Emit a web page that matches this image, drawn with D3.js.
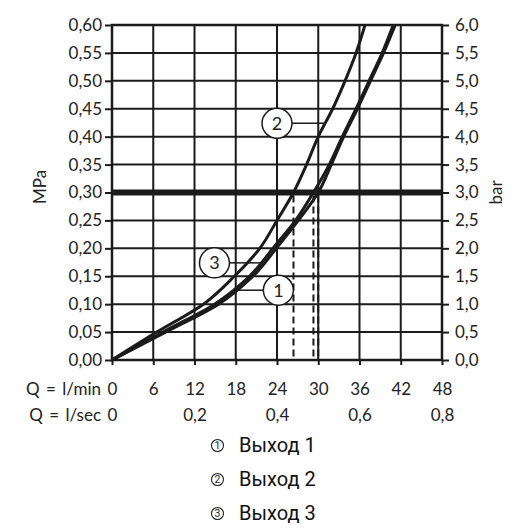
<!DOCTYPE html>
<html>
<head>
<meta charset="utf-8">
<script src="https://cdn.jsdelivr.net/npm/d3@7/dist/d3.min.js"></script>
<style>
body { margin: 0; background: #fff; }
</style>
</head>
<body>
<div id="chart_div"></div>
<script>
// pressure levels (MPa) and flow at those levels (l/min)
var pressure_mpa = [0, 0.05, 0.10, 0.15, 0.20, 0.25, 0.30, 0.35, 0.40, 0.45, 0.50, 0.55, 0.60];
var flow_out1 = [0, 7.8, 15.5, 20.5, 23.9, 27.1, 30.0, 31.9, 33.7, 35.7, 37.6, 39.5, 41.2];
var flow_out2 = [0, 6.5, 13.3, 17.8, 21.5, 24.0, 26.4, 28.3, 30.0, 32.1, 33.9, 35.5, 36.8];
var flow_out3 = [0, 7.4, 14.9, 20.0, 23.4, 26.7, 29.3, 31.6, 33.5, 35.5, 37.4, 39.3, 40.9];

var series_names = ["1", "2", "3"];
var legend_labels = ["Выход 1", "Выход 2", "Выход 3"];

var lmin_ticks = [0, 6, 12, 18, 24, 30, 36, 42, 48];
var lsec_ticks = [0, 0.2, 0.4, 0.6, 0.8];
var mpa_ticks = [0, 0.05, 0.10, 0.15, 0.20, 0.25, 0.30, 0.35, 0.40, 0.45, 0.50, 0.55, 0.60];
var bar_ticks = [0, 0.5, 1.0, 1.5, 2.0, 2.5, 3.0, 3.5, 4.0, 4.5, 5.0, 5.5, 6.0];

var reference_pressure = 0.30;

// curve callouts: which curve, where the circle sits (l/min, MPa)
var callout_series = [1, 2, 0];
var callout_flow = [24.0, 14.9, 24.2];
var callout_pressure = [0.424, 0.174, 0.125];

var width = 530, height = 530;
var plot_left = 112, plot_right = 442, plot_top = 25, plot_bottom = 360;
var ink = "#1b1b1b";
var tick_font = "Lato, 'DejaVu Sans', sans-serif";
var tick_size = "17px";
var legend_font = "Roboto, 'Liberation Sans', sans-serif";

var flows = [flow_out1, flow_out2, flow_out3];

var x = d3.scaleLinear().domain([0, 48]).range([plot_left, plot_right]);
var x_sec = d3.scaleLinear().domain([0, 0.8]).range([plot_left, plot_right]);
var y = d3.scaleLinear().domain([0, 0.6]).range([plot_bottom, plot_top]);
var y_bar = d3.scaleLinear().domain([0, 6]).range([plot_bottom, plot_top]);

function comma(fmt) {
    return function(d) {
        if (d === 0 && fmt === "0") return "0";
        return d3.format(fmt)(d).replace(".", ",");
    };
}

var svg = d3.select("#chart_div")
    .append("svg")
    .attr("width", width)
    .attr("height", height);

// grid
var grid = svg.append("g");
grid.selectAll("line.v")
    .data(lmin_ticks)
    .enter()
    .append("line")
    .attr("x1", function(d) { return x(d); })
    .attr("x2", function(d) { return x(d); })
    .attr("y1", plot_top)
    .attr("y2", plot_bottom)
    .attr("stroke", ink)
    .attr("stroke-width", 2);
grid.selectAll("line.h")
    .data(mpa_ticks)
    .enter()
    .append("line")
    .attr("x1", plot_left)
    .attr("x2", plot_right)
    .attr("y1", function(d) { return y(d); })
    .attr("y2", function(d) { return y(d); })
    .attr("stroke", ink)
    .attr("stroke-width", 2);
grid.append("rect")
    .attr("x", plot_left)
    .attr("y", plot_top)
    .attr("width", plot_right - plot_left)
    .attr("height", plot_bottom - plot_top)
    .attr("fill", "none")
    .attr("stroke", ink)
    .attr("stroke-width", 2.5);

// axes
function style_axis(g) {
    g.select(".domain").remove();
    g.selectAll(".tick line").attr("stroke", ink).attr("stroke-width", 2);
    g.selectAll(".tick text")
        .attr("fill", "#222")
        .style("font-family", tick_font)
        .style("font-size", tick_size);
}

svg.append("g")
    .attr("transform", "translate(" + plot_left + ",0)")
    .call(d3.axisLeft(y).tickValues(mpa_ticks).tickSize(7).tickPadding(3).tickFormat(comma(".2f")))
    .call(style_axis);

svg.append("g")
    .attr("transform", "translate(" + plot_right + ",0)")
    .call(d3.axisRight(y_bar).tickValues(bar_ticks).tickSize(7).tickPadding(6).tickFormat(comma(".1f")))
    .call(style_axis);

svg.append("g")
    .attr("transform", "translate(0," + plot_bottom + ")")
    .call(d3.axisBottom(x).tickValues(lmin_ticks).tickSize(5).tickPadding(18).tickFormat(d3.format("d")))
    .call(style_axis);

svg.append("g")
    .attr("transform", "translate(0," + (plot_bottom + 26) + ")")
    .call(d3.axisBottom(x_sec).tickValues(lsec_ticks).tickSize(0).tickPadding(23).tickFormat(comma("0")))
    .call(style_axis);

// row captions
svg.append("text")
    .attr("x", 101).attr("y", 395)
    .attr("text-anchor", "end")
    .style("font-family", tick_font).style("font-size", tick_size)
    .style("word-spacing", "2px")
    .attr("fill", "#222")
    .text("Q = l/min");
svg.append("text")
    .attr("x", 101).attr("y", 421)
    .attr("text-anchor", "end")
    .style("font-family", tick_font).style("font-size", tick_size)
    .style("word-spacing", "2px")
    .attr("fill", "#222")
    .text("Q = l/sec");

svg.append("text")
    .attr("transform", "translate(46," + y(0.31) + ") rotate(-90)")
    .attr("text-anchor", "middle")
    .style("font-family", tick_font).style("font-size", tick_size)
    .attr("fill", "#222")
    .text("MPa");
svg.append("text")
    .attr("transform", "translate(502," + y(0.30) + ") rotate(-90)")
    .attr("text-anchor", "middle")
    .style("font-family", tick_font).style("font-size", tick_size)
    .attr("fill", "#222")
    .text("bar");

// reference pressure line
svg.append("line")
    .attr("x1", plot_left).attr("x2", plot_right)
    .attr("y1", y(reference_pressure)).attr("y2", y(reference_pressure))
    .attr("stroke", ink)
    .attr("stroke-width", 6);

// dashed drops where each curve crosses the reference pressure
var ref_index = pressure_mpa.indexOf(reference_pressure);
svg.selectAll("line.drop")
    .data(flows)
    .enter()
    .append("line")
    .attr("x1", function(d) { return x(d[ref_index]); })
    .attr("x2", function(d) { return x(d[ref_index]); })
    .attr("y1", y(reference_pressure) + 3)
    .attr("y2", plot_bottom)
    .attr("stroke", ink)
    .attr("stroke-width", 2)
    .attr("stroke-dasharray", "7,4");

// curves
var line = d3.line()
    .x(function(d) { return x(d[0]); })
    .y(function(d) { return y(d[1]); })
    .curve(d3.curveMonotoneY);

svg.selectAll("path.curve")
    .data(flows)
    .enter()
    .append("path")
    .attr("d", function(d) {
        return line(d.map(function(q, i) { return [q, pressure_mpa[i]]; }));
    })
    .attr("fill", "none")
    .attr("stroke", ink)
    .attr("stroke-width", 3);

// callouts
var r_callout = 15;
callout_series.forEach(function(s, i) {
    var cx = x(callout_flow[i]);
    var cy = y(callout_pressure[i]);
    var on_curve = d3.scaleLinear().domain(pressure_mpa).range(flows[s]);
    var tx = x(on_curve(callout_pressure[i]));
    var start = tx > cx ? cx + r_callout : cx - r_callout;
    svg.append("line")
        .attr("x1", start).attr("x2", tx)
        .attr("y1", cy).attr("y2", cy)
        .attr("stroke", ink)
        .attr("stroke-width", 1.5);
    svg.append("circle")
        .attr("cx", cx).attr("cy", cy).attr("r", r_callout)
        .attr("fill", "#fff")
        .attr("stroke", ink)
        .attr("stroke-width", 1.5);
    svg.append("text")
        .attr("x", cx).attr("y", cy + 6.5)
        .attr("text-anchor", "middle")
        .style("font-family", tick_font).style("font-size", "18px")
        .attr("fill", "#222")
        .text(series_names[s]);
});

// legend
var legend = svg.append("g");
legend_labels.forEach(function(label, i) {
    var base = 452 + i * 34;
    legend.append("circle")
        .attr("cx", 217.5).attr("cy", base - 6.5).attr("r", 6)
        .attr("fill", "none")
        .attr("stroke", "#222")
        .attr("stroke-width", 1.1);
    legend.append("text")
        .attr("x", 217.5).attr("y", base - 2.8)
        .attr("text-anchor", "middle")
        .style("font-family", legend_font)
        .style("font-size", "10.5px")
        .attr("fill", "#222")
        .text(series_names[i]);
    legend.append("text")
        .attr("x", 239).attr("y", base)
        .style("font-family", legend_font)
        .style("font-size", "20px")
        .attr("fill", "#111")
        .text(label);
});
</script>
</body>
</html>
